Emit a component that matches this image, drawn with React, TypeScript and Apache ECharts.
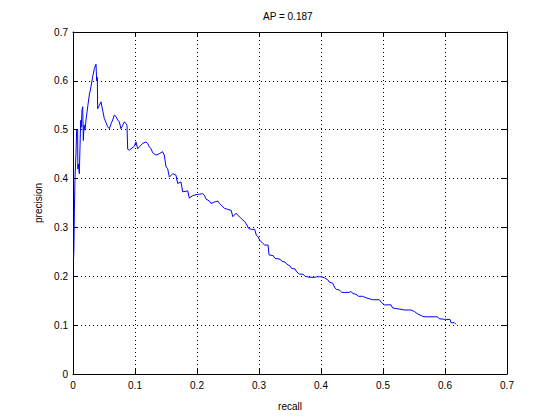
import React, { useEffect, useRef } from "react";
import * as echarts from "echarts";

const titleText = "AP = 0.187";
const xTicks = [0, 0.1, 0.2, 0.3, 0.4, 0.5, 0.6, 0.7];
const yTicks = [0, 0.1, 0.2, 0.3, 0.4, 0.5, 0.6, 0.7];

const recall = [
  0.001, 0.0015, 0.0022, 0.0032, 0.0048, 0.0059, 0.0075, 0.0078, 0.0086, 0.0102,
  0.0113, 0.0124, 0.0134, 0.0145, 0.0156, 0.0167, 0.0177, 0.0194, 0.021, 0.0237,
  0.0263, 0.029, 0.0317, 0.0344, 0.0371, 0.0382, 0.0392, 0.0398, 0.0425, 0.0452,
  0.0478, 0.0505, 0.0532, 0.0559, 0.0586, 0.0613, 0.064, 0.0667, 0.0694, 0.072,
  0.0747, 0.0774, 0.0801, 0.0828, 0.0855, 0.0871, 0.0882, 0.0909, 0.0935, 0.0989,
  0.1016, 0.1043, 0.107, 0.1124, 0.1177, 0.1204, 0.1231, 0.1258, 0.1285, 0.1339,
  0.1392, 0.1446, 0.1473, 0.15, 0.1527, 0.1554, 0.1608, 0.1661, 0.1688, 0.1742,
  0.1769, 0.1823, 0.185, 0.1876, 0.193, 0.1984, 0.2038, 0.2092, 0.2119, 0.2146,
  0.22, 0.2227, 0.2281, 0.2335, 0.2362, 0.2389, 0.2443, 0.2497, 0.2551, 0.2578,
  0.2632, 0.2659, 0.2714, 0.2768, 0.2805, 0.2832, 0.2876, 0.293, 0.2957, 0.2984,
  0.3011, 0.3065, 0.3092, 0.3146, 0.3162, 0.3194, 0.3231, 0.3258, 0.3339, 0.3366,
  0.342, 0.3446, 0.35, 0.3527, 0.3581, 0.3608, 0.3651, 0.3715, 0.3742, 0.3812,
  0.3903, 0.393, 0.3973, 0.4, 0.4054, 0.4108, 0.4134, 0.4188, 0.4226, 0.4253,
  0.4296, 0.4333, 0.4376, 0.4457, 0.4484, 0.4511, 0.4565, 0.4608, 0.4672, 0.4726,
  0.478, 0.4833, 0.4941, 0.4978, 0.5022, 0.5129, 0.5156, 0.5263, 0.5344, 0.5452,
  0.5505, 0.5559, 0.564, 0.5694, 0.5882, 0.5909, 0.5989, 0.6081, 0.6097, 0.6151,
  0.6177,
];

const precision = [
  0.2365, 0.26, 0.332, 0.4, 0.451, 0.5, 0.5, 0.42, 0.43, 0.41,
  0.465, 0.519, 0.505, 0.54, 0.547, 0.478, 0.51, 0.499, 0.52, 0.547,
  0.571, 0.588, 0.608, 0.625, 0.634, 0.6, 0.607, 0.543, 0.55, 0.557,
  0.54, 0.523, 0.515, 0.506, 0.502, 0.512, 0.52, 0.53, 0.527, 0.52,
  0.516, 0.502, 0.509, 0.516, 0.513, 0.509, 0.46, 0.458, 0.461, 0.466,
  0.475, 0.461, 0.465, 0.472, 0.475, 0.472, 0.465, 0.461, 0.453, 0.448,
  0.451, 0.455, 0.448, 0.424, 0.42, 0.403, 0.41, 0.407, 0.39, 0.393,
  0.373, 0.374, 0.375, 0.36, 0.365, 0.367, 0.368, 0.369, 0.366, 0.358,
  0.354, 0.349, 0.352, 0.354, 0.349, 0.346, 0.339, 0.337, 0.335, 0.322,
  0.329, 0.325, 0.318, 0.312, 0.305, 0.298, 0.296, 0.296, 0.284, 0.281,
  0.274, 0.267, 0.264, 0.264, 0.244, 0.243, 0.242, 0.2365, 0.235, 0.231,
  0.229, 0.225, 0.221, 0.216, 0.215, 0.209, 0.2045, 0.204, 0.2, 0.198,
  0.198, 0.199, 0.199, 0.199, 0.197, 0.193, 0.188, 0.186, 0.176, 0.173,
  0.172, 0.167, 0.167, 0.167, 0.169, 0.165, 0.163, 0.159, 0.159, 0.156,
  0.154, 0.152, 0.152, 0.146, 0.1415, 0.1415, 0.135, 0.133, 0.131, 0.131,
  0.128, 0.123, 0.118, 0.117, 0.117, 0.113, 0.112, 0.1116, 0.105, 0.105,
  0.1014,
];

const FONT = "'Liberation Sans', Arial, Helvetica, sans-serif";

export default function App() {
  const ref = useRef<HTMLDivElement>(null);
  useEffect(() => {
    if (!ref.current) return;
    const chart = echarts.init(ref.current, undefined, { renderer: "svg" });
    const fmt = (v: number) => (Math.abs(v) < 1e-9 ? "0" : v.toFixed(1));
    const tickMin = xTicks[0];
    const tickMax = xTicks[xTicks.length - 1];
    const yMin = yTicks[0];
    const yMax = yTicks[yTicks.length - 1];
    const axisBase = {
      axisLine: { show: true, onZero: false, lineStyle: { color: "#000", width: 1 } },
      axisTick: { show: true, inside: true, length: 5, lineStyle: { color: "#000" } },
    };
    const labelStyle = { color: "#000", fontSize: 10, fontFamily: FONT };
    chart.setOption({
      animation: false,
      backgroundColor: "#fff",
      textStyle: { fontFamily: FONT },
      grid: { left: 73, right: 53, top: 32, bottom: 46, containLabel: false },
      graphic: [
        {
          type: "text",
          left: 290 - 27,
          top: 11,
          style: { text: titleText, fill: "#000", font: `10px ${FONT}` },
        },
      ],
      xAxis: [
        {
          type: "value",
          position: "bottom",
          min: tickMin,
          max: tickMax,
          interval: 0.1,
          ...axisBase,
          axisLabel: { ...labelStyle, margin: 6, formatter: fmt },
          splitLine: { show: true, lineStyle: { color: "#000", width: 1, type: [1, 3] } },
          name: "recall",
          nameLocation: "middle",
          nameGap: 27,
          nameTextStyle: labelStyle,
        },
        {
          type: "value",
          position: "top",
          min: tickMin,
          max: tickMax,
          interval: 0.1,
          ...axisBase,
          axisLabel: { show: false },
          splitLine: { show: false },
        },
      ],
      yAxis: [
        {
          type: "value",
          position: "left",
          min: yMin,
          max: yMax,
          interval: 0.1,
          ...axisBase,
          axisLabel: { ...labelStyle, margin: 5, formatter: fmt },
          splitLine: { show: true, lineStyle: { color: "#000", width: 1, type: [1, 3] } },
          name: "precision",
          nameLocation: "middle",
          nameGap: 26,
          nameTextStyle: labelStyle,
        },
        {
          type: "value",
          position: "right",
          min: yMin,
          max: yMax,
          interval: 0.1,
          ...axisBase,
          axisLabel: { show: false },
          splitLine: { show: false },
        },
      ],
      series: [
        {
          type: "line",
          data: recall.map((r, i) => [r, precision[i]]),
          showSymbol: false,
          symbol: "none",
          lineStyle: { color: "#0000ff", width: 1 },
          xAxisIndex: 0,
          yAxisIndex: 0,
        },
      ],
    });
    return () => chart.dispose();
  }, []);
  return (
    <div
      ref={ref}
      style={{ position: "fixed", left: 0, top: 0, width: 560, height: 420, background: "#fff" }}
    />
  );
}
